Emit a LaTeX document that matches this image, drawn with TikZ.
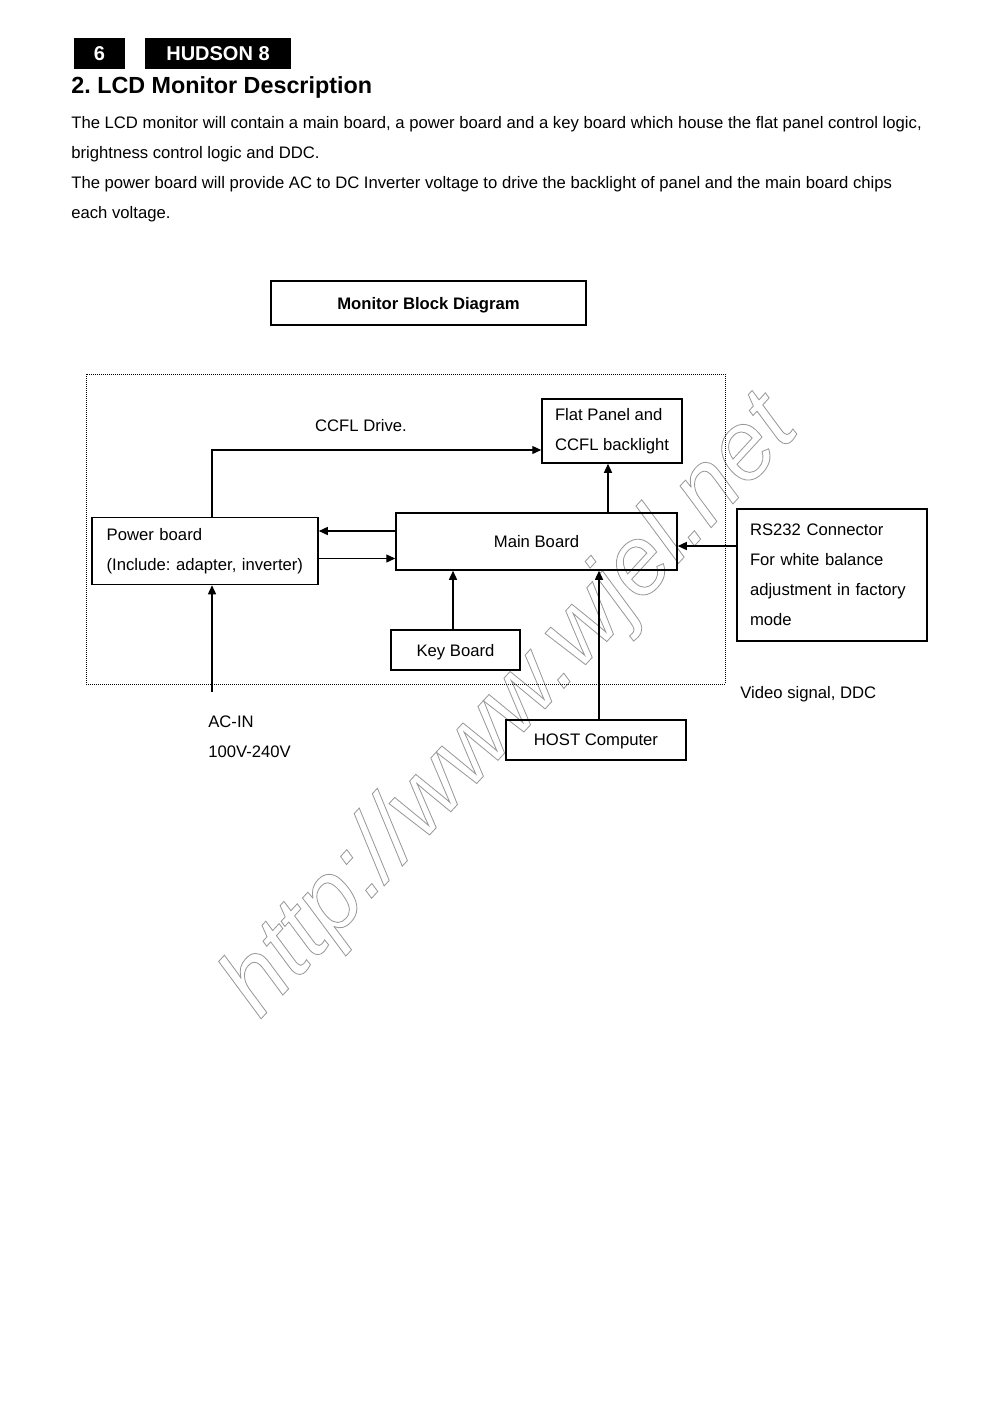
\documentclass[tikz,border=0pt]{standalone}
\usepackage{fontspec}
\setmainfont{Liberation Sans}
\usetikzlibrary{arrows.meta}
\newcommand{\outlinetext}[1]{\special{pdf:literal direct 1 Tr 0.5 w}#1\special{pdf:literal direct 0 Tr}}

\begin{document}
\frenchspacing
\begin{tikzpicture}[x=0.6pt,y=-0.6pt]
        \tikzstyle{every node} = [font=\fontsize{10}{18}\selectfont]
        \tikzstyle{box} = [draw, line width=0.9pt, align=left, inner sep=0pt]
        \tikzstyle{tag} = [fill=black, text=white, minimum height=18.6pt, inner sep=0pt, font=\bfseries\fontsize{12}{14}\selectfont]
        \tikzstyle{arr} = [line width=0.8pt, -{Triangle[length=5.4pt,width=4.8pt]}]
        \useasboundingbox (0,0) rectangle (992,1404);

        % watermark, under everything
        \node[rotate=47.5, inner sep=0pt, text=black!40, font=\itshape\fontsize{58}{58}\selectfont] (stamp) at (512,708)
            {\outlinetext{http://www.wjel.net}};

        % page head
        \node[tag, minimum width=30.6pt] (pagenum) at (99.5,53.5) {6};
        \node[tag, minimum width=87.6pt] (model) at (218,53.5) {HUDSON 8};
        \node[anchor=base west, inner sep=0pt, font=\bfseries\fontsize{14}{16}\selectfont] (title) at (71,93.5) {2. LCD Monitor Description};
        \foreach \txt [count=\i] in {{The LCD monitor will contain a main board, a power board and a key board which house the flat panel control logic,},
                                     {brightness control logic and DDC.},
                                     {The power board will provide AC to DC Inverter voltage to drive the backlight of panel and the main board chips},
                                     {each voltage.}}
            \node[anchor=base west, inner sep=0pt] (line\i) at (71,98+30*\i) {\txt};

        % block diagram
        \node[box, minimum width=189pt, minimum height=26.4pt, text depth=0pt, font=\bfseries\fontsize{10}{12}\selectfont] (heading) at (428.5,303) {Monitor Block Diagram};
        \draw[line width=0.6pt, dash pattern=on 0.6pt off 0.6pt] (86,374) rectangle (725,684);

        \node[box, minimum width=84pt, minimum height=38.4pt] (panel) at (612,431) {Flat Panel and\\CCFL backlight};
        \node[box, minimum width=135.6pt, minimum height=40.2pt, text width=118pt] (power) at (205,551) {Power board\\(Include: adapter, inverter)};
        \node[box, minimum width=168.6pt, minimum height=34.2pt, text depth=0pt] (main) at (536.5,541.5) {Main Board};
        \node[box, minimum width=77.4pt, minimum height=24pt, text depth=0pt] (keys) at (455.5,650) {Key Board};
        \node[box, minimum width=114pt, minimum height=79.2pt, text width=98.4pt] (rs) at (832,575) {RS232 Connector\\For white balance\\adjustment in factory\\mode};
        \node[box, minimum width=108pt, minimum height=24pt, text depth=0pt] (host) at (596,740) {HOST Computer};

        \node[anchor=base, inner sep=0pt] (ccfl) at (361,431) {CCFL Drive.};
        \node[anchor=base west, inner sep=0pt] (video) at (740,698) {Video signal, DDC};
        \node[anchor=base west, inner sep=0pt] (acin) at (208,727) {AC-IN};
        \node[anchor=base west, inner sep=0pt] (volt) at (208,757) {100V-240V};
        \coordinate (mains) at (212,692);

        \draw[arr] ([xshift=4.2pt]power.north) |- ([yshift=-11.4pt]panel.west);
        \draw[arr] ([xshift=-2.4pt]panel.south |- main.north) -- ([xshift=-2.4pt]panel.south);
        \draw[arr] ([yshift=6.3pt]main.west) -- ([yshift=6.3pt]main.west -| power.east);
        \draw[arr] ([yshift=-4.5pt]power.east) -- ([yshift=-4.5pt]power.east -| main.west);
        \draw[arr] ([xshift=-1.5pt]keys.north) -- ([xshift=-1.5pt]keys.north |- main.south);
        \draw[arr] ([xshift=1.8pt]host.north) -- ([xshift=1.8pt]host.north |- main.south);
        \draw[arr] ([yshift=17.4pt]rs.west) -- ([yshift=17.4pt]rs.west -| main.east);
        \draw[arr] (mains) -- (mains |- power.south);
\end{tikzpicture}
\end{document}
